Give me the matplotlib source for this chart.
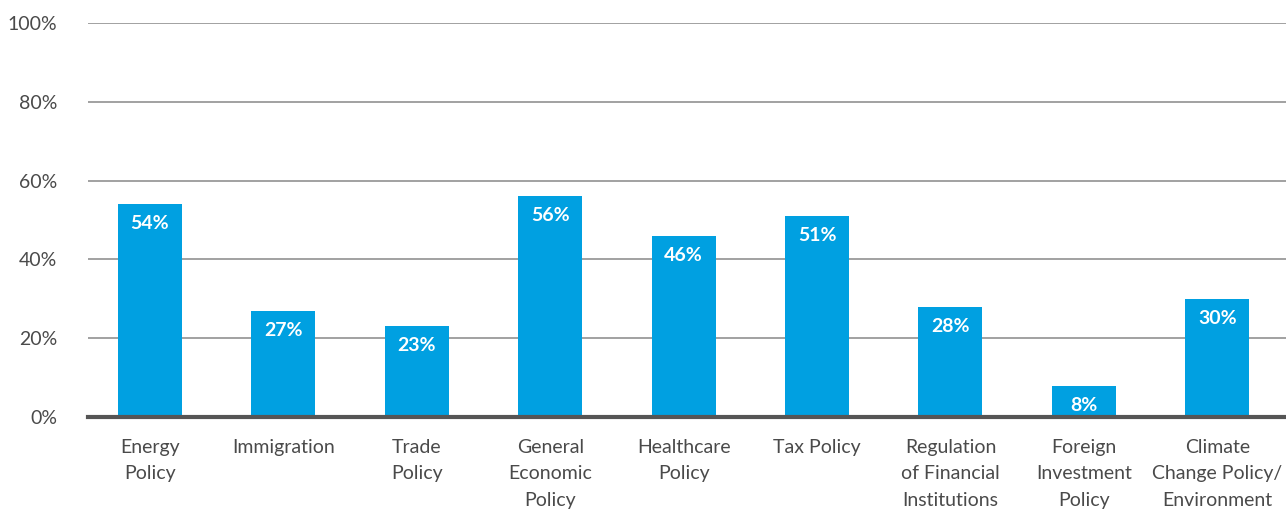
import matplotlib.pyplot as plt
from matplotlib.ticker import FuncFormatter

plt.rcParams['font.family'] = ['Lato', 'DejaVu Sans']

categories = ['Energy\nPolicy', 'Immigration', 'Trade\nPolicy', 'General\nEconomic\nPolicy',
              'Healthcare\nPolicy', 'Tax Policy', 'Regulation\nof Financial\nInstitutions',
              'Foreign\nInvestment\nPolicy', 'Climate\nChange Policy/\nEnvironment']
values = [54, 27, 23, 56, 46, 51, 28, 8, 30]
yticks = [0, 20, 40, 60, 80, 100]

bar_color = '#00a0e1'
text_color = '#4a4a4a'

fig = plt.figure(figsize=(12.86, 5.09), dpi=100)
ax = fig.add_axes([0.0684, 0.1807, 0.9316, 0.7741])

x = range(len(categories))
bars = ax.bar(x, values, width=0.48, color=bar_color, zorder=3)

# value labels sit just inside the top of each bar
for b, v in zip(bars, values):
    ax.text(b.get_x() + b.get_width() / 2, v - 2.8, f'{v}%', ha='center', va='top',
            color='white', fontsize=14, fontweight='bold', zorder=4)

ax.set_xlim(-0.465, 8.515)
ax.set_ylim(0, 100)
ax.set_yticks(yticks)
ax.yaxis.set_major_formatter(FuncFormatter(lambda v, _: f'{v:.0f}%'))
ax.set_xticks(list(x))
ax.set_xticklabels(categories, linespacing=1.68)

ax.grid(axis='y', color='#9a9a9a', linewidth=1.3, zorder=0)
for s in ['top', 'right', 'left']:
    ax.spines[s].set_visible(False)
ax.spines['bottom'].set_color('#555555')
ax.spines['bottom'].set_linewidth(3)
ax.spines['bottom'].set_zorder(5)

ax.tick_params(axis='both', length=0, labelsize=14, colors=text_color)
ax.tick_params(axis='y', pad=22)
ax.tick_params(axis='x', pad=15.5)
for lbl in ax.get_xticklabels():
    lbl.set_verticalalignment('top')

fig.savefig('out.png', dpi=100)
